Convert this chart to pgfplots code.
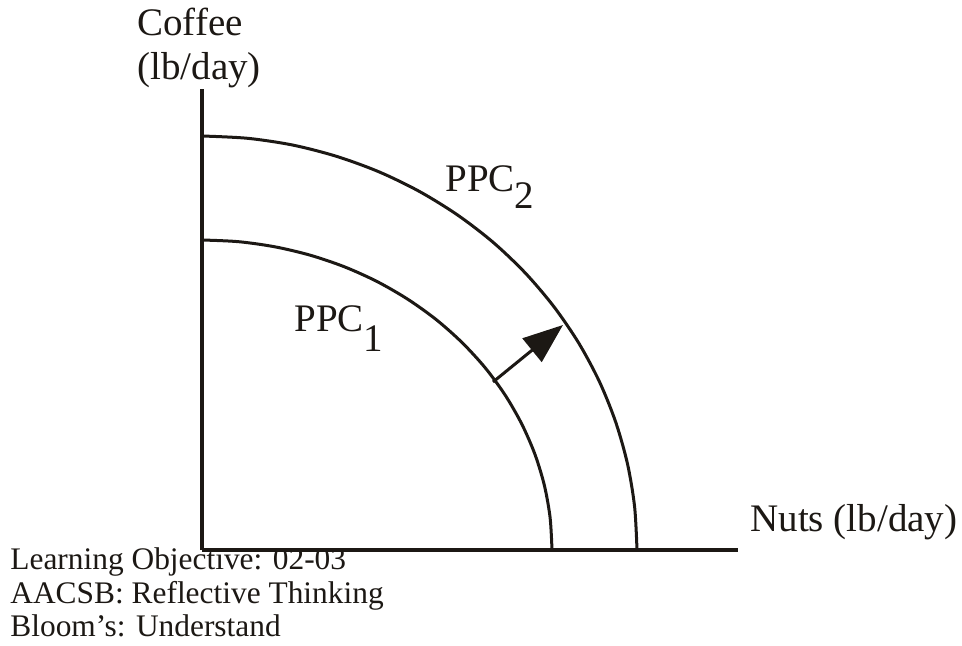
\documentclass[border=0pt]{standalone}
\usepackage{pgfplots}
\pgfplotsset{compat=1.18}
\usetikzlibrary{arrows.meta}
\usepackage{fontspec}
\setmainfont{Liberation Serif}
\definecolor{ink}{RGB}{28,24,20}
\begin{document}
\begin{tikzpicture}
\begin{axis}[
  x=0.5pt, y=0.5pt,
  xmin=0, xmax=536, ymin=0, ymax=461,
  axis lines=left,
  axis line style={-, line width=1.6pt, color=ink},
  xtick=\empty, ytick=\empty,
  clip=false,
]
% PPC1
\addplot[smooth, line width=1.5pt, color=ink] coordinates {
 (0,310) (36.6,308.3) (72.8,303.2) (108.2,294.8) (142.4,283.2) (175,268.5)
 (205.7,250.8) (234.2,230.4) (260.1,207.4) (283.2,182.2) (303.1,155)
 (319.7,126.1) (332.9,95.8) (342.4,64.5) (348.1,32.4) (350,0)};
% PPC2
\addplot[smooth, line width=1.5pt, color=ink] coordinates {
 (0,414) (45.5,411.7) (90.4,405) (134.4,393.7) (176.9,378.2) (217.5,358.5)
 (255.7,334.9) (291.1,307.7) (323.3,277) (351.9,243.3) (376.7,207)
 (397.4,168.4) (413.7,127.9) (425.5,86.1) (432.6,43.3) (435,0)};
% shift arrow
\addplot[line width=1.5pt, color=ink, -{Triangle[length=20pt,width=15pt]}] coordinates {(291,168) (361,225)};
% labels
\begin{scope}[font=\fontsize{19.5}{22}\selectfont, text=ink]
\node[anchor=base west, inner sep=0pt] at (axis cs:-65,514) {Coffee};
\node[anchor=base west, inner sep=0pt] at (axis cs:-65,470) {(lb/day)};
\node[anchor=base west, inner sep=0pt] at (axis cs:243,358) {PPC\raisebox{-8.5pt}{2}};
\node[anchor=base west, inner sep=0pt] at (axis cs:92,218) {PPC\raisebox{-10pt}{1}};
\node[anchor=base west, inner sep=0pt] at (axis cs:548,18) {Nuts (lb/day)};
\end{scope}
\begin{scope}[font=\fontsize{15.7}{17}\selectfont, text=ink]
\node[anchor=base west, inner sep=0pt] at (axis cs:-192,-20) {Learning Objective: 02-03};
\node[anchor=base west, inner sep=0pt] at (axis cs:-192,-54) {AACSB: Reflective Thinking};
\node[anchor=base west, inner sep=0pt] at (axis cs:-192,-87) {Bloom’s: Understand};
\end{scope}
\path (axis cs:-202,-96) rectangle (axis cs:760,550);
\end{axis}
\end{tikzpicture}
\end{document}
